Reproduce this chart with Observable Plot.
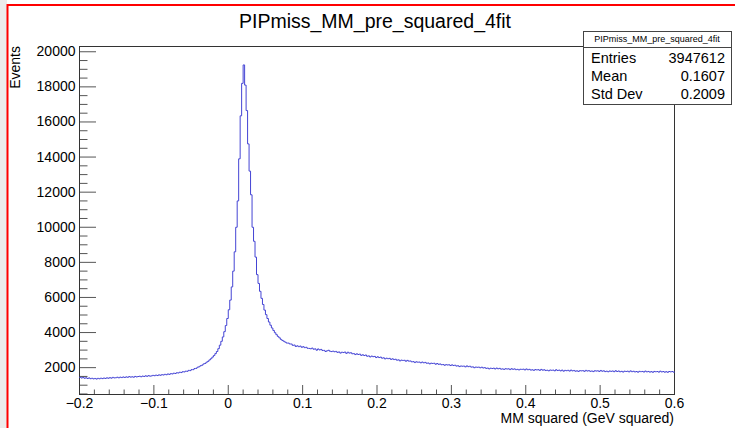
<!DOCTYPE html>
<html><head><meta charset="utf-8">
<script src="https://cdn.jsdelivr.net/npm/d3@7"></script>
<script src="https://cdn.jsdelivr.net/npm/@observablehq/plot@0.6"></script>
<style>
body{margin:0;background:#fff;}
#chart{position:relative;width:735px;height:428px;overflow:hidden;}
</style>
</head><body><div id="chart"></div>
<script>
const title = "PIPmiss_MM_pre_squared_4fit";
const xTitle = "MM squared (GeV squared)";
const yTitle = "Events";
const statNames = ["Entries", "Mean", "Std Dev"];
const statValues = ["3947612", "0.1607", "0.2009"];
const binStart = -0.2;
const binWidth = 0.002;
const xMajor = [-0.2, -0.1, 0, 0.1, 0.2, 0.3, 0.4, 0.5, 0.6];
const yMajor = [2000, 4000, 6000, 8000, 10000, 12000, 14000, 16000, 18000, 20000];
const counts = [
1450,1410,1440,1395,1425,1380,1415,1370,1395,1360,
1385,1350,1390,1365,1400,1375,1410,1385,1420,1395,
1430,1400,1445,1415,1425,1455,1420,1460,1435,1470,
1440,1475,1450,1490,1460,1480,1455,1500,1470,1495,
1510,1480,1520,1495,1535,1505,1545,1515,1530,1560,
1540,1575,1550,1590,1565,1600,1580,1620,1595,1640,
1615,1660,1640,1685,1665,1710,1695,1740,1720,1770,
1755,1800,1790,1845,1830,1890,1885,1950,1960,2025,
2050,2110,2140,2210,2240,2310,2360,2440,2510,2600,
2690,2800,2920,3080,3280,3500,3750,4050,4400,4800,
5300,5850,6600,7500,8600,10000,11500,13900,16350,18200,
19250,18100,16650,14750,13200,11850,10000,9200,8300,7300,
6800,6350,5950,5600,5280,5020,4800,4600,4420,4260,
4120,3990,3880,3780,3700,3610,3550,3500,3450,3400,
3400,3350,3345,3270,3290,3205,3245,3195,3230,3160,
3195,3140,3160,3100,3095,3075,3115,3050,3070,2995,
3065,3010,3040,2975,2985,2920,2960,2990,2935,2915,
2940,2905,2925,2870,2895,2830,2880,2860,2890,2815,
2880,2830,2850,2790,2800,2745,2790,2750,2770,2700,
2735,2690,2720,2650,2670,2610,2660,2625,2640,2575,
2620,2575,2600,2540,2560,2500,2540,2510,2530,2470,
2505,2460,2480,2425,2445,2385,2430,2410,2420,2365,
2415,2370,2380,2330,2345,2290,2335,2310,2320,2275,
2320,2275,2300,2250,2265,2215,2255,2240,2250,2195,
2235,2190,2210,2165,2180,2135,2170,2150,2165,2120,
2160,2120,2140,2090,2110,2060,2095,2080,2090,2045,
2100,2055,2080,2030,2045,1995,2035,2020,2030,1990,
2025,1980,2000,1960,1975,1930,1970,1950,1970,1925,
1975,1935,1960,1915,1930,1900,1940,1920,1935,1890,
1940,1905,1930,1885,1905,1870,1910,1900,1915,1870,
1925,1880,1905,1860,1880,1845,1890,1870,1885,1845,
1900,1855,1880,1835,1855,1820,1865,1850,1860,1820,
1880,1835,1860,1815,1860,1800,1845,1825,1850,1805,
1860,1815,1840,1795,1820,1785,1830,1815,1830,1790,
1845,1805,1830,1790,1810,1775,1825,1805,1820,1785,
1840,1795,1820,1775,1800,1765,1810,1790,1810,1770,
1825,1780,1810,1765,1790,1750,1800,1780,1800,1760,
1815,1770,1795,1755,1780,1740,1790,1770,1785,1750,
1805,1760,1785,1745,1775,1735,1785,1765,1780,1745,
1800,1755,1780,1740,1770,1735,1780,1760,1780,1745
];

const W = 735, H = 428;
const mL = 79, mR = 61, mT = 46, mB = 34;
const fw = W - mL - mR, fh = H - mT - mB;

const hist = counts.map((c, i) => ({x: binStart + i * binWidth, y: c}));
hist.push({x: binStart + counts.length * binWidth, y: counts[counts.length - 1]});

const xMinor = d3.ticks(-0.2, 0.6, 40).filter(v => !xMajor.some(m => Math.abs(m - v) < 1e-9));
const yMinor = d3.range(500, 20001, 500).filter(v => v % 2000 !== 0);
const fmtX = d => d < 0 ? "\u2212" + String(Math.abs(d)) : String(d);

const plot = Plot.plot({
  width: W, height: H,
  marginLeft: mL, marginRight: mR, marginTop: mT, marginBottom: mB,
  x: {domain: [-0.2, 0.6]},
  y: {domain: [470, 20300]},
  style: {fontFamily: "'Liberation Sans', Arial, sans-serif", fontSize: "14px", color: "#000", background: "transparent", overflow: "visible"},
  marks: [
    Plot.ruleY(yMinor, {y: d => d, insetRight: fw - 8.5, stroke: "#555"}),
    Plot.ruleY(yMajor, {y: d => d, insetRight: fw - 17, stroke: "#555"}),
    Plot.ruleX(xMinor, {x: d => d, insetTop: fh - 4.5, stroke: "#555"}),
    Plot.ruleX(xMajor, {x: d => d, insetTop: fh - 9, stroke: "#555"}),
    Plot.axisY(yMajor, {tickSize: 0, tickPadding: 4, label: null, tickFormat: d => String(d), fontSize: 14}),
    Plot.axisX(xMajor, {tickSize: 0, tickPadding: 4, label: null, tickFormat: fmtX, fontSize: 14}),
    Plot.frame({stroke: "#333", strokeWidth: 1}),
    Plot.line(hist, {x: "x", y: "y", curve: "step-after", stroke: "#4444d4", strokeWidth: 1})
  ]
});

const svg = d3.select(plot);
svg.insert("rect", ":first-child").attr("x", 0).attr("y", 0).attr("width", 7).attr("height", H).attr("fill", "#ececec");
svg.append("line").attr("x1", 7.5).attr("x2", 7.5).attr("y1", 4).attr("y2", H).attr("stroke", "#f00").attr("stroke-width", 2);
svg.append("line").attr("x1", 7).attr("x2", W).attr("y1", 5).attr("y2", 5).attr("stroke", "#f00").attr("stroke-width", 2);

const font = "'Liberation Sans', Arial, sans-serif";
svg.append("text").attr("x", 375).attr("y", 28).attr("text-anchor", "middle")
  .attr("font-family", font).attr("font-size", 19.5).attr("fill", "#000").text(title);
svg.append("text").attr("transform", `translate(20,${mT}) rotate(-90)`).attr("text-anchor", "end")
  .attr("font-family", font).attr("font-size", 14).attr("fill", "#000").text(yTitle);
svg.append("text").attr("x", W - mR).attr("y", 423).attr("text-anchor", "end")
  .attr("font-family", font).attr("font-size", 14).attr("fill", "#000").text(xTitle);

const bx = 583, by = 31, bw = 148, bh = 73, sep = 47;
const g = svg.append("g");
g.append("rect").attr("x", bx + 0.5).attr("y", by + 0.5).attr("width", bw).attr("height", bh)
  .attr("fill", "#fff").attr("stroke", "#444");
g.append("line").attr("x1", bx).attr("x2", bx + bw).attr("y1", sep + 0.5).attr("y2", sep + 0.5).attr("stroke", "#444");
g.append("text").attr("x", bx + bw / 2).attr("y", 42).attr("text-anchor", "middle")
  .attr("font-family", font).attr("font-size", 9).attr("fill", "#000").text(title);
statNames.forEach((n, i) => {
  const yy = 63 + i * 18;
  g.append("text").attr("x", bx + 8).attr("y", yy).attr("text-anchor", "start").attr("font-family", font).attr("font-size", 14.5).attr("fill", "#000").text(n);
  g.append("text").attr("x", bx + bw - 6).attr("y", yy).attr("text-anchor", "end").attr("font-family", font).attr("font-size", 14.5).attr("fill", "#000").text(statValues[i]);
});

document.getElementById("chart").appendChild(plot);
</script>
</body></html>
